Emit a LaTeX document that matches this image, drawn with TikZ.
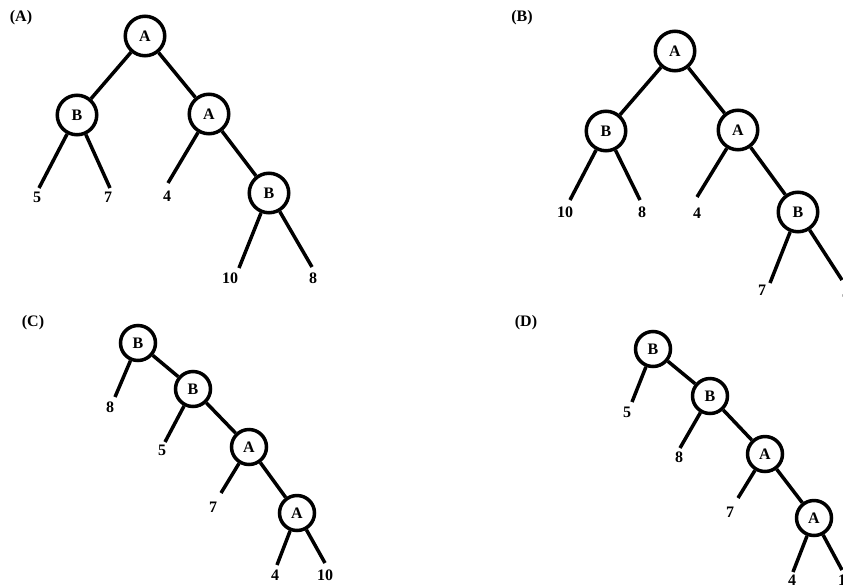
\documentclass[tikz,border=0pt]{standalone}
\usepackage{fontspec}
\setmainfont{Liberation Serif}
\begin{document}
\begin{tikzpicture}[x=1pt,y=-1pt,
  txt/.style={inner sep=0pt,font=\fontsize{16}{16}\selectfont\bfseries},
  big/.style={txt,circle,draw,line width=3.5pt,minimum size=39.5pt},
  small/.style={big,minimum size=35pt},
  edge/.style={line width=3.5pt}]
\useasboundingbox (0,0) rectangle (843,587);
\clip (0,0) rectangle (843,587);

% ---------- tree (A) ----------
\node[txt] (tagA) at (21,18) {(A)};
\node[big] (a1) at (145,36) {A};
\node[big] (a2) at (77,115) {B};
\node[big] (a3) at (209,114) {A};
\node[big] (a4) at (269,193) {B};
\coordinate (ae5) at (39,188);   \node[txt] (at5) at (37,197) {5};
\coordinate (ae7) at (110,188);  \node[txt] (at7) at (108,197) {7};
\coordinate (ae4) at (168,183);  \node[txt] (at4) at (167,196) {4};
\coordinate (ae10) at (239,268); \node[txt] (at10) at (230,278) {10};
\coordinate (ae8) at (312,267);  \node[txt] (at8) at (313,278) {8};
\draw[edge] (a1) -- (a2);
\draw[edge] (a1) -- (a3);
\draw[edge] (a3) -- (a4);
\draw[edge] (a2) -- (ae5);
\draw[edge] (a2) -- (ae7);
\draw[edge] (a3) -- (ae4);
\draw[edge] (a4) -- (ae10);
\draw[edge] (a4) -- (ae8);

% ---------- tree (B) ----------
\node[txt] (tagB) at (522,18) {(B)};
\node[big] (b1) at (675,51) {A};
\node[big] (b2) at (606,131) {B};
\node[big] (b3) at (738,130) {A};
\node[big] (b4) at (798,212) {B};
\coordinate (be10) at (570,200); \node[txt] (bt10) at (565,212) {10};
\coordinate (be8) at (640,200);  \node[txt] (bt8) at (642,212) {8};
\coordinate (be4) at (697,197);  \node[txt] (bt4) at (697,213) {4};
\coordinate (be7) at (770,283);  \node[txt] (bt7) at (762,290) {7};
\coordinate (be5) at (842,280);  \node[txt] (bt5) at (846,292) {5};
\draw[edge] (b1) -- (b2);
\draw[edge] (b1) -- (b3);
\draw[edge] (b3) -- (b4);
\draw[edge] (b2) -- (be10);
\draw[edge] (b2) -- (be8);
\draw[edge] (b3) -- (be4);
\draw[edge] (b4) -- (be7);
\draw[edge] (b4) -- (be5);

% ---------- tree (C) ----------
\node[txt] (tagC) at (33,323) {(C)};
\node[small] (c1) at (138,343) {B};
\node[small] (c2) at (193,389) {B};
\node[small] (c3) at (249,447) {A};
\node[small] (c4) at (297,513) {A};
\coordinate (ce8) at (115,397);  \node[txt] (ct8) at (110,407) {8};
\coordinate (ce5) at (165,442);  \node[txt] (ct5) at (162,450) {5};
\coordinate (ce7) at (221,493);  \node[txt] (ct7) at (213,507) {7};
\coordinate (ce4) at (277,565);  \node[txt] (ct4) at (275,575) {4};
\coordinate (ce10) at (325,563); \node[txt] (ct10) at (325,575) {10};
\draw[edge] (c1) -- (c2);
\draw[edge] (c2) -- (c3);
\draw[edge] (c3) -- (c4);
\draw[edge] (c1) -- (ce8);
\draw[edge] (c2) -- (ce5);
\draw[edge] (c3) -- (ce7);
\draw[edge] (c4) -- (ce4);
\draw[edge] (c4) -- (ce10);

% ---------- tree (D) ----------
\node[txt] (tagD) at (526,323) {(D)};
\node[small] (d1) at (653,349) {B};
\node[small] (d2) at (710,396) {B};
\node[small] (d3) at (765,454) {A};
\node[small] (d4) at (814,518) {A};
\coordinate (de5) at (632,402);  \node[txt] (dt5) at (627,412) {5};
\coordinate (de8) at (680,448);  \node[txt] (dt8) at (679,457) {8};
\coordinate (de7) at (738,498);  \node[txt] (dt7) at (730,512) {7};
\coordinate (de4) at (793,572);  \node[txt] (dt4) at (792,580) {4};
\coordinate (de10) at (842,570); \node[txt] (dt10) at (846,580) {10};
\draw[edge] (d1) -- (d2);
\draw[edge] (d2) -- (d3);
\draw[edge] (d3) -- (d4);
\draw[edge] (d1) -- (de5);
\draw[edge] (d2) -- (de8);
\draw[edge] (d3) -- (de7);
\draw[edge] (d4) -- (de4);
\draw[edge] (d4) -- (de10);
\end{tikzpicture}
\end{document}
